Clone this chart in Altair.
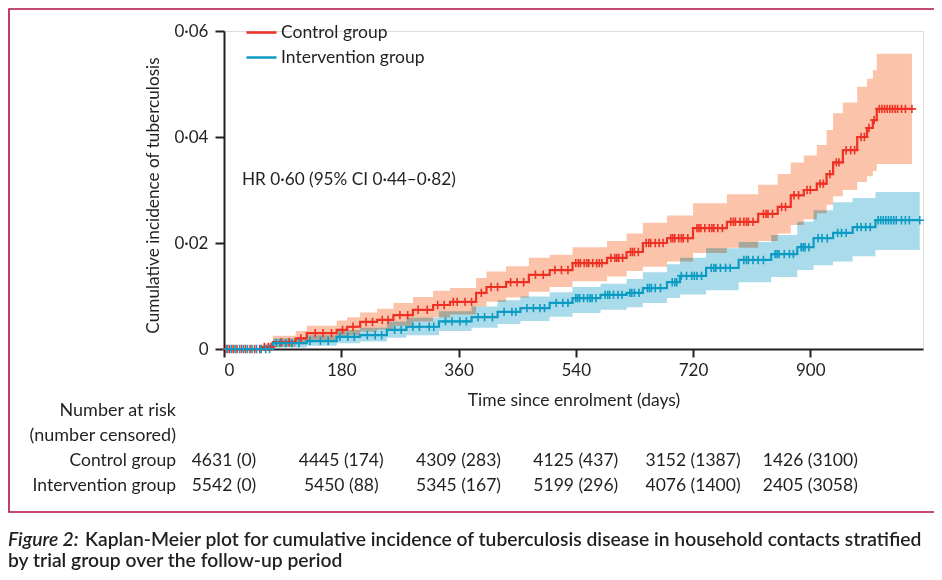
import altair as alt
import pandas as pd

groups = ["Control group", "Intervention group"]
line_colors = ["#ee3124", "#0b9bc3"]
band_colors = ["#fbc3aa", "#aadbea"]

ctrl_days = [0, 60, 75, 110, 127, 173, 189, 209, 235, 260, 290, 321, 347, 387, 403, 433, 468, 500, 535, 588, 618, 643, 680, 720, 772, 820, 850, 870, 890, 910, 925, 935, 950, 972, 987, 996, 1002, 1056]
ctrl_est = [0, 0.0004, 0.0013, 0.0020, 0.0030, 0.0036, 0.0042, 0.0051, 0.0055, 0.0064, 0.0074, 0.0083, 0.0089, 0.0106, 0.0117, 0.0126, 0.0140, 0.0149, 0.0162, 0.0172, 0.0183, 0.0200, 0.0209, 0.0228, 0.0240, 0.0255, 0.0268, 0.0290, 0.0300, 0.0312, 0.0330, 0.0352, 0.0375, 0.0400, 0.0417, 0.0432, 0.0453, 0.0453]
ctrl_lo = [0, 0.0000, 0.0004, 0.0009, 0.0016, 0.0021, 0.0026, 0.0033, 0.0037, 0.0044, 0.0052, 0.0060, 0.0065, 0.0080, 0.0089, 0.0097, 0.0108, 0.0117, 0.0128, 0.0137, 0.0147, 0.0155, 0.0165, 0.0181, 0.0191, 0.0204, 0.0218, 0.0234, 0.0245, 0.0256, 0.0272, 0.0288, 0.0300, 0.0315, 0.0326, 0.0336, 0.0349, 0.0349]
ctrl_hi = [0, 0.0010, 0.0025, 0.0034, 0.0044, 0.0054, 0.0060, 0.0069, 0.0076, 0.0087, 0.0098, 0.0110, 0.0115, 0.0134, 0.0146, 0.0156, 0.0172, 0.0178, 0.0192, 0.0204, 0.0218, 0.0238, 0.0252, 0.0275, 0.0292, 0.0310, 0.0330, 0.0352, 0.0365, 0.0385, 0.0413, 0.0445, 0.0465, 0.0495, 0.0510, 0.0526, 0.0557, 0.0557]

int_days = [0, 75, 127, 173, 209, 250, 280, 330, 380, 420, 455, 500, 535, 578, 618, 643, 680, 700, 740, 790, 840, 880, 905, 935, 965, 1000, 1068]
int_est = [0, 0.0011, 0.0015, 0.0023, 0.0026, 0.0036, 0.0042, 0.0052, 0.0060, 0.0070, 0.0077, 0.0087, 0.0096, 0.0102, 0.0106, 0.0115, 0.0126, 0.0138, 0.0153, 0.0168, 0.0179, 0.0192, 0.0209, 0.0219, 0.0230, 0.0243, 0.0243]
int_lo = [0, 0.0003, 0.0006, 0.0011, 0.0014, 0.0021, 0.0026, 0.0034, 0.0040, 0.0047, 0.0053, 0.0061, 0.0068, 0.0074, 0.0079, 0.0087, 0.0096, 0.0103, 0.0111, 0.0126, 0.0136, 0.0149, 0.0158, 0.0165, 0.0175, 0.0187, 0.0187]
int_hi = [0, 0.0020, 0.0026, 0.0036, 0.0040, 0.0052, 0.0059, 0.0071, 0.0080, 0.0092, 0.0099, 0.0107, 0.0117, 0.0123, 0.0132, 0.0145, 0.0160, 0.0172, 0.0190, 0.0202, 0.0215, 0.0240, 0.0262, 0.0277, 0.0285, 0.0296, 0.0296]

ctrl_censor = [3, 8, 14, 20, 27, 33, 40, 47, 55, 62, 68, 72, 88, 100, 118, 140, 152, 165, 182, 198, 218, 228, 243, 252, 270, 282, 298, 312, 328, 338, 352, 358, 370, 380, 395, 410, 420, 440, 450, 460, 478, 490, 508, 518, 528,
               540, 544, 547, 553, 557, 560, 566, 572, 576, 580, 594, 600, 603, 606, 612, 624, 627, 630, 636, 648, 652, 655, 662, 668, 674, 686, 689, 692, 698, 702, 705, 712, 726, 729, 732, 738, 745, 749, 752, 758, 765, 778, 782, 785, 792, 798, 802, 805, 812, 828, 832, 835, 842, 856, 862, 875, 882, 895, 900, 915, 920, 930, 940, 944, 955, 962, 968, 978, 983, 990, 998, 1006, 1010, 1014, 1018, 1022, 1026, 1030, 1034, 1040, 1046, 1056]
int_censor = [5, 11, 17, 24, 30, 36, 43, 50, 57, 64, 70, 80, 86, 95, 104, 115, 132, 148, 160, 178, 190, 200, 220, 232, 242, 262, 272, 290, 300, 315, 322, 340, 350, 362, 372, 390, 400, 412, 430, 442, 448, 465, 475, 485, 492, 510, 520, 528,
              540, 543, 546, 552, 558, 562, 565, 571, 585, 589, 592, 598, 605, 611, 623, 626, 630, 637, 650, 653, 656, 662, 670, 688, 692, 695, 702, 710, 718, 722, 726, 733, 748, 752, 755, 762, 770, 777, 798, 802, 805, 812, 820, 828, 846, 849, 852, 860, 868, 874, 886, 889, 892, 898, 912, 918, 926, 942, 948, 955, 972, 978, 985, 992, 1004, 1008, 1012, 1016, 1020, 1024, 1028, 1032, 1040, 1046, 1052, 1068]

x_ticks = [0, 180, 360, 540, 720, 900]
y_ticks = [0, 0.02, 0.04, 0.06]
risk_days = [0, 180, 360, 540, 720, 900]
ctrl_risk = ["4631 (0)", "4445 (174)", "4309 (283)", "4125 (437)", "3152 (1387)", "1426 (3100)"]
int_risk = ["5542 (0)", "5450 (88)", "5345 (167)", "5199 (296)", "4076 (1400)", "2405 (3058)"]

FONT = "Lato"
TXT = "#231f20"


def step_value(days, vals, d):
    v = vals[0]
    for dd, vv in zip(days, vals):
        if dd <= d:
            v = vv
    return v


curve_rows = []
for g, ds, es, los, his in [(groups[0], ctrl_days, ctrl_est, ctrl_lo, ctrl_hi),
                            (groups[1], int_days, int_est, int_lo, int_hi)]:
    for d, e, lo, hi in zip(ds, es, los, his):
        curve_rows.append({"group": g, "day": d, "est": e, "lo": lo, "hi": hi})
curve_df = pd.DataFrame(curve_rows)

cens_rows = []
for g, cs, ds, es in [(groups[0], ctrl_censor, ctrl_days, ctrl_est),
                      (groups[1], int_censor, int_days, int_est)]:
    for c in cs:
        cens_rows.append({"group": g, "day": c, "est": step_value(ds, es, c)})
cens_df = pd.DataFrame(cens_rows)

xscale = alt.Scale(domain=[0, 1073], nice=False, zero=False)
yscale = alt.Scale(domain=[0, 0.06], nice=False)

x_axis = alt.Axis(values=x_ticks, title="Time since enrolment (days)", grid=False,
                  domainColor="#231f20", domainWidth=2, tickColor="#231f20", tickWidth=2, tickSize=8,
                  labelFontSize=17, labelPadding=5, labelColor=TXT, labelFont=FONT,
                  titleFontSize=17.5, titleFont=FONT, titleFontWeight="normal", titleColor=TXT, titlePadding=13)
y_axis = alt.Axis(values=y_ticks, title="Cumulative incidence of tuberculosis", grid=False,
                  labelExpr="datum.value == 0 ? '0' : replace(format(datum.value, '.2f'), '.', '·')",
                  domainColor="#231f20", domainWidth=2, tickColor="#231f20", tickWidth=2, tickSize=9,
                  labelFontSize=17, labelPadding=7, labelColor=TXT, labelFont=FONT,
                  titleFontSize=17.2, titleFont=FONT, titleFontWeight="normal", titleColor=TXT,
                  titlePadding=11, titleY=164)

band_layers = []
cens_layers = []
for g, bc, lc in zip(groups, band_colors, line_colors):
    band_layers.append(
        alt.Chart(curve_df).transform_filter(alt.datum.group == g).mark_area(
            interpolate="step-after", blend="multiply", opacity=1, color=bc).encode(
            x=alt.X("day:Q", scale=xscale, axis=x_axis),
            y=alt.Y("lo:Q", scale=yscale, axis=y_axis),
            y2="hi:Q",
        )
    )
    cens_layers.append(
        alt.Chart(cens_df).transform_filter(alt.datum.group == g).mark_point(
            shape="M-1,0L1,0M0,-1L0,1", size=70, filled=False, strokeWidth=1.6, opacity=1, color=lc).encode(
            x="day:Q",
            y="est:Q",
        )
    )

lines = alt.Chart(curve_df).mark_line(interpolate="step-after", strokeWidth=2.2).encode(
    x="day:Q",
    y="est:Q",
    color=alt.Color("group:N", scale=alt.Scale(domain=groups, range=line_colors),
                    legend=alt.Legend(title=None, orient="none", legendX=21, legendY=-15,
                                      symbolType="stroke", symbolSize=900, symbolStrokeWidth=2.5,
                                      labelFontSize=17.5, labelFont=FONT, labelColor=TXT, labelOffset=3,
                                      rowPadding=-6)),
)

one = pd.DataFrame({"k": [0]})


def label(text, x, y, align="left", size=17, style="normal", weight="normal", baseline="middle"):
    return alt.Chart(one).mark_text(align=align, baseline=baseline, fontSize=size, font=FONT,
                                    fontStyle=style, fontWeight=weight, color=TXT).encode(
        x=alt.value(x), y=alt.value(y), text=alt.value(text))


hr = label("HR 0·60 (95% CI 0·44–0·82)", 18, 149, size=17.2)

risk_ctrl = alt.Chart(pd.DataFrame({"day": risk_days, "t": ctrl_risk})).mark_text(
    align="center", baseline="middle", fontSize=17.5, font=FONT, color=TXT).encode(
    x="day:Q", y=alt.value(430), text="t:N")
risk_int = alt.Chart(pd.DataFrame({"day": risk_days, "t": int_risk})).mark_text(
    align="center", baseline="middle", fontSize=17.5, font=FONT, color=TXT).encode(
    x="day:Q", y=alt.value(455), text="t:N")

row1 = label("Number at risk", -48, 380, align="right", size=18)
row2 = label("(number censored)", -48, 405, align="right", size=18)
row3 = label("Control group", -48, 430, align="right", size=17.5)
row4 = label("Intervention group", -48, 455, align="right", size=17.5)

cap1a = label("Figure 2:", -216, 515, size=19.3, style="italic", weight=600, baseline="alphabetic")
cap1b = label("Kaplan-Meier plot for cumulative incidence of tuberculosis disease in household contacts stratified",
              -139, 515, size=19.3, weight=600, baseline="alphabetic")
cap2 = label("by trial group over the follow-up period", -216, 536, size=19.3, weight=600, baseline="alphabetic")

border = alt.Chart(one).mark_rect(fill=None, fillOpacity=0, stroke="#b0123f", strokeWidth=1.6).encode(
    x=alt.value(-215), x2=alt.value(714), y=alt.value(-22), y2=alt.value(481))

chart = alt.layer(
    *band_layers, lines, *cens_layers, hr, risk_ctrl, risk_int, row1, row2, row3, row4, cap1a, cap1b, cap2, border
).properties(
    width=699, height=318,
    padding={"left": 216, "top": 23, "right": 11, "bottom": 223},
    autosize=alt.AutoSizeParams(type="none"),
).configure_view(stroke=None).configure(font=FONT)

chart.save("out.html", embed_options={"renderer": "svg", "actions": False})
